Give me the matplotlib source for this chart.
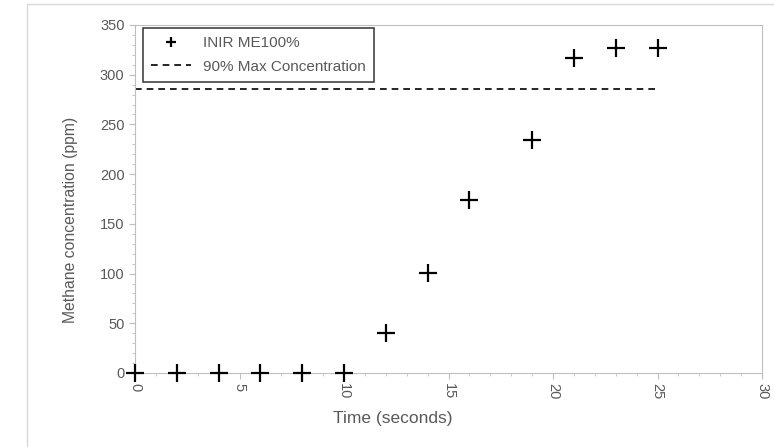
import matplotlib
matplotlib.use("Agg")
import matplotlib.pyplot as plt
from matplotlib.patches import Rectangle

plt.rcParams['font.family'] = ['Liberation Sans', 'DejaVu Sans']

# data
time_s = [0, 2, 4, 6, 8, 10, 12, 14, 16, 19, 21, 23, 25]
methane_ppm = [0, 0, 0, 0, 0, 0, 40, 101, 174, 234, 317, 327, 327]
threshold_x = [0, 25]
threshold_ppm = [286, 286]

grey = '#595959'
axis_grey = '#bfbfbf'
W, H = 774, 447

fig = plt.figure(figsize=(W / 100, H / 100), dpi=100)
ax = fig.add_axes([135 / W, 1 - 373 / H, 627 / W, 348 / H])

# outer chart border
fig.patches.append(Rectangle((27 / W, -0.1), 1.0, 1.0 + 0.1 - 4 / H,
                             transform=fig.transFigure, fill=False,
                             edgecolor='#d9d9d9', linewidth=1.0))

ax.plot(time_s, methane_ppm, linestyle='none', marker='+', color='black',
        markersize=13, markeredgewidth=1.6, label='INIR ME100%', clip_on=False, zorder=3)
ax.plot(threshold_x, threshold_ppm, linestyle=(0, (4, 3)), color='black',
        linewidth=1.2, label='90% Max Concentration')

ax.set_xlim(0, 30)
ax.set_ylim(0, 350)
ax.set_xticks(range(0, 31, 5))
ax.set_yticks(range(0, 351, 50))
ax.set_xticks(range(0, 31, 1), minor=True)
ax.set_yticks(range(0, 351, 10), minor=True)

for s in ax.spines.values():
    s.set_color(axis_grey)
ax.tick_params(axis='both', which='both', colors=axis_grey, labelcolor=grey, labelsize=10.5)
ax.tick_params(axis='both', which='major', length=4, direction='out')
ax.tick_params(axis='both', which='minor', length=2, direction='out')
plt.setp(ax.get_xticklabels(), rotation=-90)

# axis titles placed like the original (centred on the chart area)
fig.text(393 / W, 1 - 418 / H, 'Time (seconds)', color=grey, fontsize=12.5,
         ha='center', va='center')
fig.text(70 / W, 1 - 220 / H, 'Methane concentration (ppm)', color=grey, fontsize=11.3,
         ha='center', va='center', rotation=90)

leg = ax.legend(loc='upper left', bbox_to_anchor=(143 / W, 1 - 28 / H),
                bbox_transform=fig.transFigure, frameon=True,
                fancybox=False, edgecolor='black', fontsize=11, markerscale=0.55,
                handlelength=2.6, handletextpad=0.75, borderpad=0.55, labelspacing=0.6,
                borderaxespad=0)
leg.get_frame().set_linewidth(1.1)
for t in leg.get_texts():
    t.set_color(grey)

fig.savefig('out.png', dpi=100)
